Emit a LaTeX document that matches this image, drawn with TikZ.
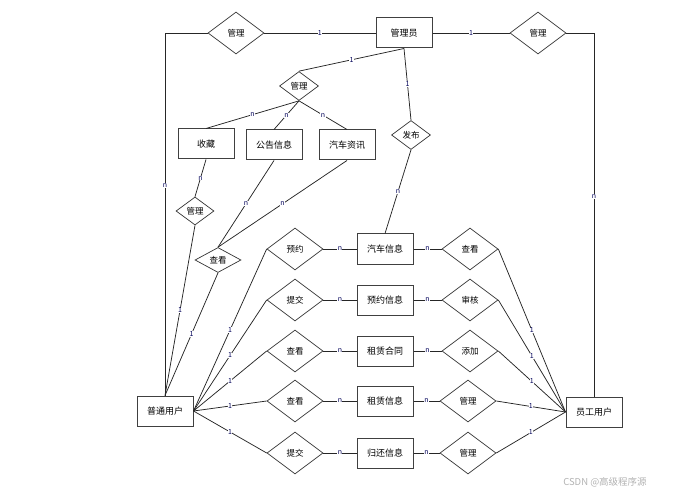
\documentclass[tikz,border=0pt]{standalone}
\usepackage{fontspec}
\setmainfont{Noto Sans CJK SC}
\usetikzlibrary{shapes.geometric}
\tikzset{
  ent/.style={draw=black!75,line width=1pt,rectangle,minimum width=56pt,minimum height=30pt,inner sep=0pt,font=\fontsize{9}{10}\selectfont},
  rel/.style={draw=black!80,line width=0.7pt,diamond,minimum width=56pt,minimum height=42pt,inner sep=0pt,font=\fontsize{8.5}{10}\selectfont},
  srel/.style={rel,minimum width=39pt,minimum height=29pt},
  lab/.style={fill=white,inner sep=0.4pt,font=\fontsize{7}{7}\selectfont,text=blue!35!black}
}
\begin{document}
\begin{tikzpicture}[x=1pt,y=-1pt]
      \useasboundingbox (0,0) rectangle (680,497);
      \draw
        (404,33) node[ent] (admin){管理员}
        (236,33) node[rel] (r1){管理}
        (538,33) node[rel] (r2){管理}
        (299,86) node[srel] (r3){管理}
        (411,135) node[srel] (r4){发布}
        (206,144) node[ent] (fav){收藏}
        (274,145) node[ent] (notice){公告信息}
        (347,145) node[ent] (news){汽车资讯}
        (195,211) node[srel,minimum width=38pt,minimum height=28pt] (r5){管理}
        (218,260) node[srel,minimum width=46pt,minimum height=25pt] (r6){查看}
        (165,411) node[ent] (user){普通用户}
        (594,412) node[ent] (staff){员工用户}
        (295,249) node[rel] (a1){预约}
        (295,300) node[rel] (a2){提交}
        (295,351) node[rel] (a3){查看}
        (295,401) node[rel] (a4){查看}
        (295,453) node[rel] (a5){提交}
        (385,249) node[ent] (car){汽车信息}
        (385,300) node[ent] (book){预约信息}
        (385,351) node[ent] (lease){租赁合同}
        (385,401) node[ent] (rent){租赁信息}
        (385,453) node[ent] (back){归还信息}
        (470,249) node[rel] (b1){查看}
        (470,300) node[rel] (b2){审核}
        (470,351) node[rel] (b3){添加}
        (468,401) node[rel] (b4){管理}
        (468,453) node[rel] (b5){管理};
      \node[text=black!30,font=\fontsize{9.5}{10}\selectfont] (mark) at (605,482) {CSDN @高级程序源};
      \begin{scope}[-,line width=0.75pt,draw=black!85]
        \draw (admin) to node[lab]{1} (r1);
        \draw (r1.west) -| node[lab,pos=0.71]{n} (user.north);
        \draw (admin) to node[lab]{1} (r2);
        \draw (r2.east) -| node[lab,pos=0.725]{n} (staff.north);
        \draw (admin.south) to node[lab]{1} (r3.north);
        \draw (admin.south) to node[lab]{1} (r4.north);
        \draw (r3.south) to node[lab]{n} (fav.north);
        \draw (r3.south) to node[lab]{n} (notice.north);
        \draw (r3.south) to node[lab]{n} (news.north);
        \draw (r4.south) to node[lab]{n} (car.north);
        \draw (fav.south) to node[lab]{n} (r5.north);
        \draw (r5.south) to node[lab]{1} (user.north);
        \draw (notice.south) to node[lab]{n} (r6.north);
        \draw (news.south) to node[lab]{n} (r6.north);
        \draw (r6.south) to node[lab]{1} (user.north);
        \draw (user.east) to node[lab]{1} (a1.west);
        \draw (user.east) to node[lab]{1} (a2.west);
        \draw (user.east) to node[lab]{1} (a3.west);
        \draw (user.east) to node[lab]{1} (a4.west);
        \draw (user.east) to node[lab]{1} (a5.west);
        \draw (a1) to node[lab]{n} (car);
        \draw (a2) to node[lab]{n} (book);
        \draw (a3) to node[lab]{n} (lease);
        \draw (a4) to node[lab]{n} (rent);
        \draw (a5) to node[lab]{n} (back);
        \draw (car) to node[lab]{n} (b1);
        \draw (book) to node[lab]{n} (b2);
        \draw (lease) to node[lab]{n} (b3);
        \draw (rent) to node[lab]{n} (b4);
        \draw (back) to node[lab]{n} (b5);
        \draw (b1.east) to node[lab]{1} (staff.west);
        \draw (b2.east) to node[lab]{1} (staff.west);
        \draw (b3.east) to node[lab]{1} (staff.west);
        \draw (b4.east) to node[lab]{1} (staff.west);
        \draw (b5.east) to node[lab]{1} (staff.west);
      \end{scope}
    \end{tikzpicture}
\end{document}
